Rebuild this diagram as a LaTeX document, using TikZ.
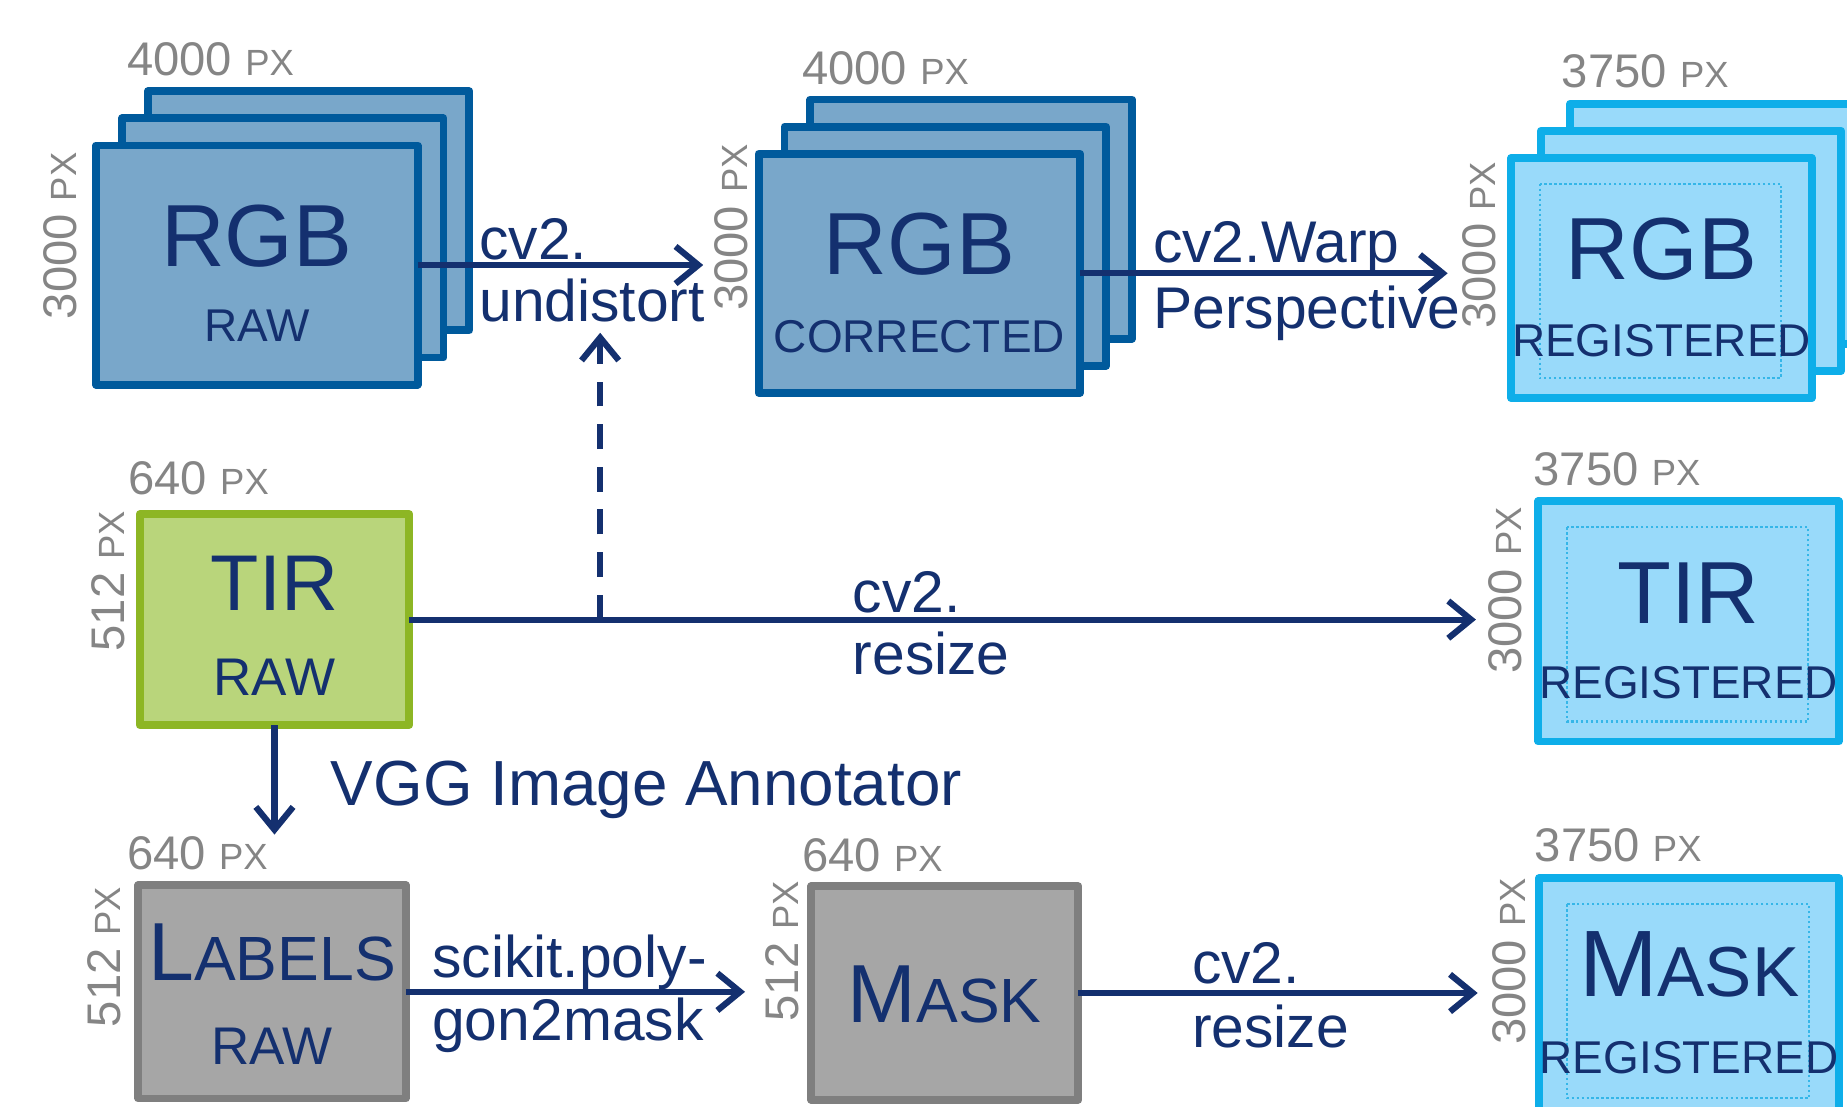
\documentclass[tikz,border=0pt]{standalone}
\usepackage{fontspec}
\setmainfont{Liberation Sans}
\usetikzlibrary{arrows.meta, calc}
\definecolor{flowblue}{HTML}{14306F}
\definecolor{rgbedge}{HTML}{005A9C}
\definecolor{rgbfill}{HTML}{79A7CA}
\definecolor{regedge}{HTML}{0EAEE9}
\definecolor{regfill}{HTML}{99DAFA}
\definecolor{regdots}{HTML}{35B6E8}
\definecolor{tiredge}{HTML}{8DB624}
\definecolor{tirfill}{HTML}{B9D57B}
\definecolor{grayedge}{HTML}{7F7F7F}
\definecolor{grayfill}{HTML}{A6A6A6}
\definecolor{dimgray}{HTML}{858585}

% smaller caps for the unit and the fake small caps
\newcommand{\pxunit}{{\fontsize{8.8}{9}\selectfont PX}}
\newcommand{\lowcaps}[2]{{\fontsize{#1}{#1}\selectfont #2}}

\begin{document}
\begin{tikzpicture}[x=0.1mm, y=-0.1mm, inner sep=0pt, outer sep=0pt,
    frame/.style={draw, line width=1.9pt, line join=round},
    rgbbox/.style={frame, draw=rgbedge, fill=rgbfill, minimum width=27.3mm, minimum height=20.3mm},
    regbox/.style={frame, draw=regedge, fill=regfill, minimum width=25.5mm, minimum height=20.4mm},
    tirbox/.style={frame, draw=tiredge, fill=tirfill, minimum width=22.9mm, minimum height=17.9mm},
    graybox/.style={frame, draw=grayedge, fill=grayfill, minimum width=22.7mm, minimum height=18.1mm},
    dots/.style={draw=regdots, line width=0.5pt, dash pattern=on 0.6pt off 0.6pt},
    flow/.style={flowblue, line width=1.5pt, -{Straight Barb[length=5.5pt, width=9pt]}},
    dim/.style={text=dimgray, anchor=base west, font=\fontsize{11.4}{12}\selectfont},
    dimv/.style={dim, rotate=90},
    title/.style={text=flowblue, anchor=base, font=\fontsize{21.3}{22}\selectfont},
    sub/.style={text=flowblue, anchor=base, font=\fontsize{11.1}{12}\selectfont},
    op/.style={text=flowblue, anchor=base west, font=\fontsize{14.2}{15}\selectfont}]

  \useasboundingbox (0,0) rectangle (1568,939);

  % --- frame stacks (two sheets behind each front frame)
  \foreach \k in {2,1} {
    \node[rgbbox] (rgbraw\k) at ($(218,225)+(\k*22,-\k*23)$) {};
    \node[rgbbox] (rgbcor\k) at ($(780.5,232)+(\k*22,-\k*23)$) {};
    \node[regbox] (rgbreg\k) at ($(1410.5,236)+(\k*25,-\k*23)$) {};
  }
  \node[rgbbox] (rgbraw) at (218,225) {};
  \node[rgbbox] (rgbcor) at (780.5,232) {};
  \node[regbox] (rgbreg) at (1410.5,236) {};

  % --- single frames
  \node[tirbox] (tirraw) at (233,526) {};
  \node[regbox] (tirreg) at (1433.5,527.5) {};
  \node[graybox] (lblraw) at (231,842) {};
  \node[graybox] (mask) at (802,843) {};
  \node[regbox] (maskreg) at (1434,847.5) {};

  % registered area inside the resized frames
  \foreach \n in {rgbreg, tirreg, maskreg}
    \draw[dots] ($(\n.north west)+(24,22)$) rectangle ($(\n.south east)+(-26,-17)$);

  % --- frame titles
  \node[title] (rgbrawt) at ($(rgbraw)+(0,1)$) {RGB};
  \node[sub] (rgbraws) at ($(rgbraw)+(0,65)$) {RAW};
  \node[title] (rgbcort) at ($(rgbcor)+(0,1)$) {RGB};
  \node[sub] (rgbcors) at ($(rgbcor)+(0,67)$) {CORRECTED};
  \node[title] (rgbregt) at ($(rgbreg)+(0,1)$) {RGB};
  \node[sub] (rgbregs) at ($(rgbreg)+(0,67)$) {REGISTERED};
  \node[title, font=\fontsize{19.1}{20}\selectfont] (tirrawt) at ($(tirraw)+(0,-8)$) {TIR};
  \node[sub, font=\fontsize{12.8}{13}\selectfont] (tirraws) at ($(tirraw)+(0,64)$) {RAW};
  \node[title] (tirregt) at ($(tirreg)+(0,1.5)$) {TIR};
  \node[sub] (tirregs) at ($(tirreg)+(0,65.5)$) {REGISTERED};
  \node[title, font=\fontsize{19.9}{20}\selectfont] (lblrawt) at ($(lblraw)+(0,-10)$) {L\lowcaps{15.1}{ABELS}};
  \node[sub, font=\fontsize{12.8}{13}\selectfont] (lblraws) at ($(lblraw)+(0,62)$) {RAW};
  \node[title, font=\fontsize{19.9}{20}\selectfont] (maskt) at ($(mask)+(0,25)$) {M\lowcaps{15.1}{ASK}};
  \node[title, font=\fontsize{22.8}{23}\selectfont] (maskregt) at ($(maskreg)+(0,-1.5)$) {M\lowcaps{17.1}{ASK}};
  \node[sub] (maskregs) at ($(maskreg)+(0,63.5)$) {REGISTERED};

  % --- image sizes
  \node[dim] (rgbraww) at (108,64) {4000 \pxunit};
  \node[dimv] (rgbrawh) at (65,271) {3000 \pxunit};
  \node[dim] (rgbcorw) at (681,72) {4000 \pxunit};
  \node[dimv] (rgbcorh) at (635,264) {3000 \pxunit};
  \node[dim] (rgbregw) at (1326,74) {3750 \pxunit};
  \node[dimv] (rgbregh) at (1270,279) {3000 \pxunit};
  \node[dim] (tirraww) at (109,420) {640 \pxunit};
  \node[dimv] (tirrawh) at (106,553) {512 \pxunit};
  \node[dim] (tirregw) at (1302,412) {3750 \pxunit};
  \node[dimv] (tirregh) at (1292,572) {3000 \pxunit};
  \node[dim] (lblraww) at (108,738) {640 \pxunit};
  \node[dimv] (lblrawh) at (102,872) {512 \pxunit};
  \node[dim] (maskw) at (681,740) {640 \pxunit};
  \node[dimv] (maskh) at (678,867) {512 \pxunit};
  \node[dim] (maskregw) at (1303,731) {3750 \pxunit};
  \node[dimv] (maskregh) at (1295,887) {3000 \pxunit};

  % --- operations
  \node[op] (undistA) at (407,220) {cv2.};
  \node[op] (undist) at (407,273) {undistort};
  \node[op] (warpA) at (979,223) {cv2.Warp};
  \node[op] (warp) at (979,279) {Perspective};
  \node[op] (tirresA) at (724,520) {cv2.};
  \node[op] (tirres) at (724,573) {resize};
  \node[op, font=\fontsize{15.4}{16}\selectfont] (vgg) at (281,684) {VGG Image Annotator};
  \node[op] (polyA) at (367,830) {scikit.poly-};
  \node[op] (poly) at (367,883) {gon2mask};
  \node[op] (maskresA) at (1012,835) {cv2.};
  \node[op] (maskres) at (1012,889) {resize};

  % --- connectors
  \draw[flow, shorten >=4.7mm] (rgbraw.east) -- (rgbraw.east -| rgbcor.west);
  \draw[flow, shorten >=5.4mm] (rgbcor.east) -- (rgbcor.east -| rgbreg.west);
  \draw[flow, shorten >=5.3mm] (tirraw.east) -- (tirraw.east -| tirreg.west);
  \path (tirraw.east) ++(162,0) coordinate (tap);
  \draw[flow, dash pattern=on 6pt off 4.3pt, shorten >=0.9mm] (tap) -- (tap |- undist.south);
  \draw[flow, shorten >=4.3mm] (tirraw.south) -- (tirraw.south |- lblraw.north);
  \draw[flow, shorten >=5.6mm] (lblraw.east) -- (lblraw.east -| mask.west);
  \draw[flow, shorten >=5.2mm] (mask.east) -- (mask.east -| maskreg.west);
\end{tikzpicture}
\end{document}
